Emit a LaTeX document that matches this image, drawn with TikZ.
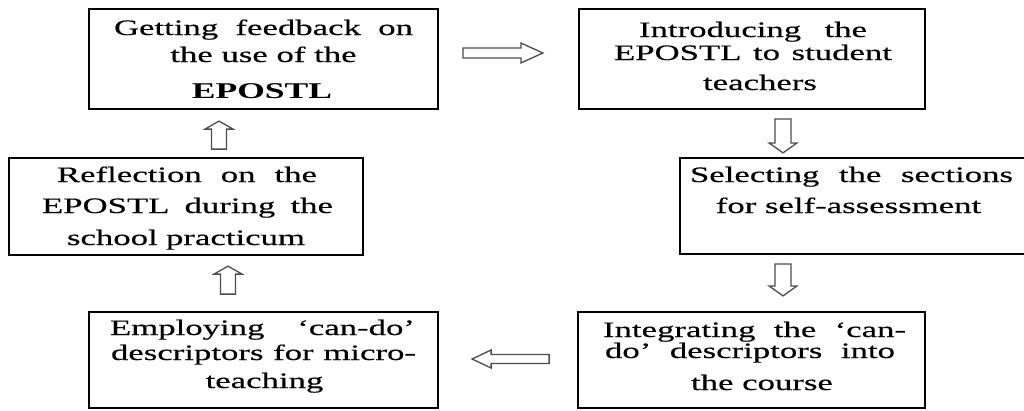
\documentclass[tikz,border=0pt]{standalone}
\usepackage{fontspec}
\setmainfont{Liberation Serif}[FakeStretch=1.58, UprightFeatures={FakeBold=0.4}]
\usetikzlibrary{calc}

\tikzset{
  stepbox/.style={draw=black, line width=1.8pt, fill=none, inner sep=0pt},
  txt/.style={anchor=base, inner sep=0pt, font=\fontsize{22}{26}\selectfont},
  arrowline/.style={draw=black!70, line width=1.3pt, fill=white, line join=miter},
  % hollow block arrow pointing along local +x: {length}{shaft half}{head half}{head length}
  pics/blockarrow/.style n args={4}{code={
    \draw[arrowline] (0,-#2) -- ({#1-#4},-#2) -- ({#1-#4},-#3) -- (#1,0)
      -- ({#1-#4},#3) -- ({#1-#4},#2) -- (0,#2) -- cycle;
  }}
}

\begin{document}
\begin{tikzpicture}[x=1pt, y=-1pt]
\useasboundingbox (0,0) rectangle (1024,410);

% boxes
\node[stepbox, minimum width=349pt, minimum height=100pt] (b1) at (263.5,59) {};
\node[stepbox, minimum width=346pt, minimum height=100pt] (b2) at (752,59) {};
\node[stepbox, minimum width=346pt, minimum height=96pt]  (b3) at (853,206) {};
\node[stepbox, minimum width=347pt, minimum height=96pt]  (b4) at (751.5,360) {};
\node[stepbox, minimum width=349pt, minimum height=96pt]  (b5) at (263.5,360) {};
\node[stepbox, minimum width=354pt, minimum height=97pt]  (b6) at (186,206.5) {};

% texts
\node[txt] (t1a) at (263.5,35) {\makebox[299pt][s]{Getting feedback on}};
\node[txt] (t1b) at (263.5,62) {the use of the};
\node[txt, font=\fontsize{22.5}{26}\selectfont\bfseries] (t1c) at (262,98) {EPOSTL};

\node[txt] (t2a) at (753,37) {\makebox[228pt][s]{Introducing the}};
\node[txt] (t2b) at (753,60) {\makebox[278pt][s]{EPOSTL to student}};
\node[txt] (t2c) at (760,90) {teachers};

\node[txt] (t3a) at (851.5,182) {\makebox[323pt][s]{Selecting the sections}};
\node[txt] (t3b) at (848.5,213) {for self-assessment};

\node[txt] (t4a) at (754.5,337) {\makebox[303pt][s]{Integrating the ‘can-}};
\node[txt] (t4b) at (750,358) {\makebox[290pt][s]{do’ descriptors into}};
\node[txt] (t4c) at (762,390) {the course};

\node[txt] (t5a) at (262.5,335) {\makebox[305pt][s]{Employing ‘can-do’}};
\node[txt] (t5b) at (263.5,360) {\makebox[305pt][s]{descriptors for micro-}};
\node[txt] (t5c) at (264.5,388) {teaching};

\node[txt] (t6a) at (187,182) {\makebox[260pt][s]{Reflection on the}};
\node[txt] (t6b) at (187.5,213) {\makebox[291pt][s]{EPOSTL during the}};
\node[txt] (t6c) at (186,245) {\makebox[238pt][s]{school practicum}};

% hollow arrows between the steps
\pic at ($(b1.east)+(24,-6)$) {blockarrow={80}{5}{10}{22}};
\pic[rotate=-90] at ($(b2.south)+(31,9)$) {blockarrow={34}{8}{14}{10}};
\pic[rotate=-90] at ($(b3.south)+(-70,9)$) {blockarrow={32}{8}{14}{10}};
\pic[rotate=180] at ($(b4.west)+(-28,-1)$) {blockarrow={77}{4.5}{9}{19}};
\pic[rotate=90] at ($(b5.north)+(-35.5,-17)$) {blockarrow={28}{7.5}{14}{8}};
\pic[rotate=90] at ($(b6.north)+(33,-8)$) {blockarrow={28}{7.5}{14}{8}};
\end{tikzpicture}
\end{document}
